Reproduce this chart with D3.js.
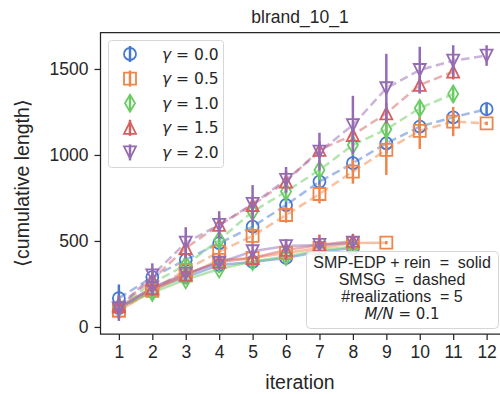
<!DOCTYPE html>
<html>
<head>
<meta charset="utf-8">
<script src="https://cdn.jsdelivr.net/npm/d3@7"></script>
<style>
  body { margin: 0; background: #fff; }
  svg { display: block; font-family: "Liberation Sans", Arial, sans-serif; }
</style>
</head>
<body>
<div id="chart"></div>
<script>
// --- data ---
const iterations = [1, 2, 3, 4, 5, 6, 7, 8, 9, 10, 11, 12];
const gammaLabels = ["0.0", "0.5", "1.0", "1.5", "2.0"];
const colors = ["#4878d0", "#ee854a", "#6acc64", "#d65f5f", "#956cb4"];
const markers = ["circle", "square", "diamond", "up", "down"];
const yTicks = [0, 500, 1000, 1500];

// SMSG (dashed)
const smsgMean = [
  [167, 290, 390, 487, 583, 709, 845, 952, 1068, 1165, 1219, 1266],
  [95, 215, 331, 438, 529, 651, 773, 903, 1029, 1140, 1194, 1184],
  [118, 255, 360, 506, 670, 787, 913, 1058, 1149, 1272, 1355],
  [128, 275, 459, 593, 709, 845, 1029, 1116, 1242, 1407, 1484],
  [110, 300, 490, 593, 715, 855, 1019, 1174, 1388, 1494, 1548, 1578]
];
const smsgErr = [
  [80, 40, 40, 40, 45, 40, 40, 50, 60, 50, 30, 40],
  [40, 50, 40, 40, 50, 45, 55, 70, 145, 105, 85, 10],
  [60, 70, 50, 40, 60, 60, 60, 60, 70, 45, 45],
  [50, 60, 60, 50, 50, 60, 50, 60, 60, 50, 45],
  [75, 70, 90, 80, 110, 75, 110, 170, 200, 135, 90, 60]
];

// SMP-EDP + rein (solid)
const smpMean = [
  [110, 220, 290, 360, 378, 401, 438, 459],
  [95, 210, 300, 390, 401, 430, 459, 488, 490],
  [115, 200, 275, 337, 380, 409, 448, 467],
  [120, 225, 305, 378, 401, 448, 477, 500],
  [105, 230, 310, 374, 440, 470, 477, 490]
];
const smpErr = [
  [40, 30, 30, 30, 30, 25, 25, 25],
  [30, 30, 30, 30, 30, 30, 30, 30, 10],
  [30, 40, 30, 25, 30, 30, 30, 25],
  [40, 40, 40, 40, 40, 60, 60, 40],
  [60, 50, 40, 40, 40, 40, 40, 35]
];

const infoLines = ["SMP-EDP + rein  =  solid", "SMSG  =  dashed", "#realizations  = 5", "M/N = 0.1"];

// --- layout ---
const width = 500, height = 394;
const x = d3.scaleLinear().domain([0.45, 12.55]).range([100.5, 505]);
const y = d3.scaleLinear().domain([-41, 1712]).range([334, 32.5]);
const ink = "#262626";
const mathFont = "DejaVu Sans, sans-serif";
const ms = 12;

const svg = d3.select("#chart").append("svg")
  .attr("width", width).attr("height", height);

// marker path generator
function markerPath(type) {
  const h = ms / 2;
  if (type === "circle") return d3.symbol(d3.symbolCircle, Math.PI * h * h)();
  if (type === "square") return `M${-h},${-h}H${h}V${h}H${-h}Z`;
  if (type === "diamond") {
    const a = 0.707 * ms, b = 0.42 * ms;
    return `M0,${-a}L${b},0L0,${a}L${-b},0Z`;
  }
  if (type === "up") return `M0,${-h}L${h},${h}L${-h},${h}Z`;
  return `M0,${h}L${h},${-h}L${-h},${-h}Z`;
}

// axes
const yAxis = d3.axisLeft(y).tickValues(yTicks).tickFormat(d3.format("d")).tickSize(6).tickPadding(6);
const xAxis = d3.axisBottom(x).tickValues(iterations).tickSize(6).tickPadding(6);

const gy = svg.append("g").attr("transform", "translate(100.5,0)").call(yAxis);
const gx = svg.append("g").attr("transform", "translate(0,334)").call(xAxis);
[gx, gy].forEach(g => {
  g.select(".domain").remove();
  g.selectAll("line").attr("stroke", ink).attr("stroke-width", 1.25);
  g.selectAll("text").attr("fill", ink).style("font-size", "17.5px").style("font-family", "Liberation Sans, Arial, sans-serif");
});

// spines
svg.append("path")
  .attr("d", `M505,32.5H100.5V334H505`)
  .attr("fill", "none").attr("stroke", ink).attr("stroke-width", 1.25);

const plot = svg.append("g");
const line = d3.line().x((d, i) => x(iterations[i])).y(d => y(d));

// lines first
gammaLabels.forEach((g, k) => {
  plot.append("path").datum(smsgMean[k]).attr("d", line)
    .attr("fill", "none").attr("stroke", colors[k]).attr("stroke-opacity", 0.5)
    .attr("stroke-width", 2.5).attr("stroke-dasharray", "8.5,4.5");
  plot.append("path").datum(smpMean[k]).attr("d", line)
    .attr("fill", "none").attr("stroke", colors[k]).attr("stroke-opacity", 0.5)
    .attr("stroke-width", 2.5);
});

// error bars and markers
function drawPoints(means, errs, k) {
  const pts = means.map((m, i) => ({ x: iterations[i], m: m, e: errs[i] }));
  plot.append("g").selectAll("line").data(pts).join("line")
    .attr("x1", d => x(d.x)).attr("x2", d => x(d.x))
    .attr("y1", d => y(d.m - d.e)).attr("y2", d => y(d.m + d.e))
    .attr("stroke", colors[k]).attr("stroke-width", 2.5);
  plot.append("g").selectAll("path").data(pts).join("path")
    .attr("d", markerPath(markers[k]))
    .attr("transform", d => `translate(${x(d.x)},${y(d.m)})`)
    .attr("fill", "none").attr("stroke", colors[k]).attr("stroke-width", 1.8);
}
gammaLabels.forEach((g, k) => {
  drawPoints(smpMean[k], smpErr[k], k);
  drawPoints(smsgMean[k], smsgErr[k], k);
});

// legend
const leg = svg.append("g");
leg.append("rect").attr("x", 108.5).attr("y", 40.5).attr("width", 115).attr("height", 127)
  .attr("rx", 3).attr("fill", "#fff").attr("fill-opacity", 0.85)
  .attr("stroke", "#d6d6d6").attr("stroke-width", 1);
gammaLabels.forEach((g, k) => {
  const yy = 54 + k * 24.6;
  leg.append("line").attr("x1", 130).attr("x2", 130).attr("y1", yy - 8).attr("y2", yy + 8)
    .attr("stroke", colors[k]).attr("stroke-width", 2.5);
  leg.append("path").attr("d", markerPath(markers[k]))
    .attr("transform", `translate(130,${yy})`)
    .attr("fill", "none").attr("stroke", colors[k]).attr("stroke-width", 1.8);
  const t = leg.append("text").attr("x", 162).attr("y", yy + 5.5)
    .attr("fill", ink).style("font-size", "15.5px").style("font-family", mathFont);
  t.append("tspan").attr("font-style", "italic").text("γ");
  t.append("tspan").text(" = " + g);
});

// info box
const box = svg.append("g");
box.append("rect").attr("x", 306.5).attr("y", 251.5).attr("width", 192).attr("height", 77)
  .attr("rx", 4).attr("fill", "#fff").attr("fill-opacity", 0.85)
  .attr("stroke", "#d6d6d6").attr("stroke-width", 1);
infoLines.forEach((s, i) => {
  const t = box.append("text").attr("x", 402).attr("y", 268 + i * 16.9)
    .attr("text-anchor", "middle").attr("fill", ink).style("font-size", "16px")
    .attr("xml:space", "preserve").style("white-space", "pre");
  if (i === 3) {
    t.style("font-family", mathFont).style("font-size", "15px");
    t.append("tspan").attr("font-style", "italic").text("M/N");
    t.append("tspan").text(" = 0.1");
  } else {
    t.text(s);
  }
});

// labels
svg.append("text").attr("x", 300).attr("y", 23).attr("text-anchor", "middle")
  .attr("fill", ink).style("font-size", "17.5px").text("blrand_10_1");
svg.append("text").attr("x", 300).attr("y", 389).attr("text-anchor", "middle")
  .attr("fill", ink).style("font-size", "19.5px").text("iteration");
svg.append("text").attr("transform", "translate(29,183) rotate(-90)")
  .attr("text-anchor", "middle").attr("fill", ink).style("font-size", "19.5px")
  .text("⟨cumulative length⟩");
</script>
</body>
</html>
